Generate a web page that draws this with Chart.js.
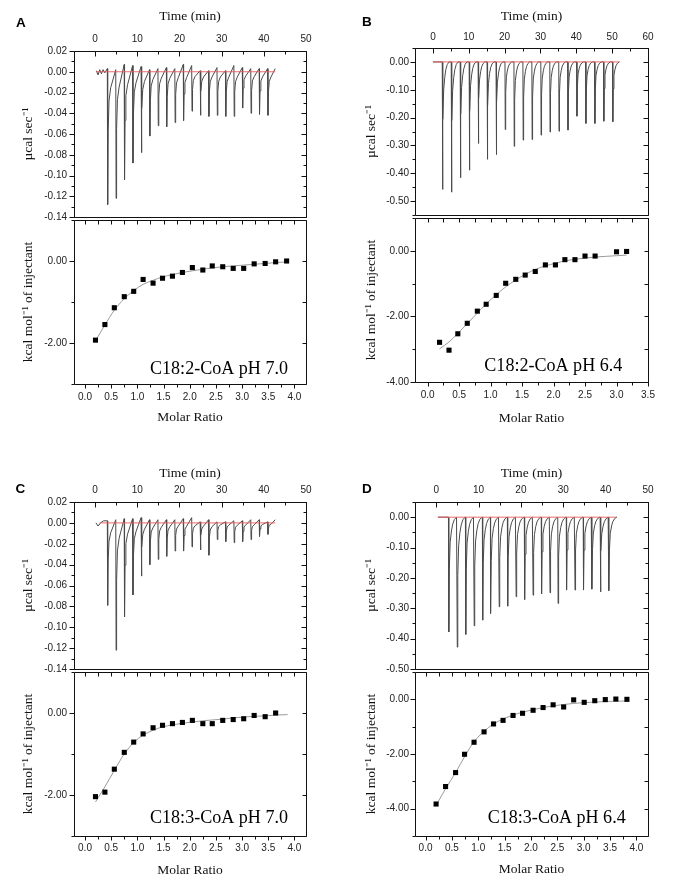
<!DOCTYPE html>
<html>
<head>
<meta charset="utf-8">
<script src="https://cdn.jsdelivr.net/npm/chart.js@4.4.1/dist/chart.umd.min.js"></script>
<style>
html,body{margin:0;padding:0;background:#fff;}
#wrap{position:relative;width:692px;height:880px;overflow:hidden;background:#fff;}
#wrap canvas{position:absolute;}
</style>
</head>
<body>
<div id="wrap"></div>
<script>
// ================= DATA =================
// ---- Panel A : C18:2-CoA pH 7.0 ----
const noteA = 'C18:2-CoA pH 7.0';
const timeLabelsA = ['0','10','20','30','40','50'];
const rawLabelsA = ['0.02','0.00','-0.02','-0.04','-0.06','-0.08','-0.10','-0.12','-0.14'];
const molarLabelsA = ['0.0','0.5','1.0','1.5','2.0','2.5','3.0','3.5','4.0'];
const heatLabelsA = ['0.00','-2.00'];
const injTimeA = [2.9,4.9,6.9,8.9,10.9,12.9,14.9,16.9,18.9,20.9,22.9,24.9,26.9,28.9,30.9,32.9,34.9,36.9,38.9,40.9];
const peakA = [-0.128,-0.122,-0.104,-0.088,-0.078,-0.062,-0.052,-0.053,-0.049,-0.047,-0.038,-0.042,-0.043,-0.042,-0.043,-0.043,-0.035,-0.040,-0.041,-0.042];
const levelA = [0.003,0.002,0.007,0.006,0.005,0.002,0.003,0.004,0.003,0.007,0.006,0.001,0.001,0.004,0.001,0.006,0.004,0.003,0.003,0.003,0.003];
const preA = [[0.3,0.001],[0.7,-0.003],[1.1,0.002],[1.5,-0.002],[1.9,0.002],[2.3,-0.001]];
const traceEndA = 42.7;
const baselineA = [0.3, 42.7];
const molarA = [0.20,0.38,0.56,0.75,0.93,1.11,1.30,1.48,1.67,1.86,2.05,2.25,2.43,2.63,2.83,3.03,3.23,3.44,3.64,3.85];
const heatA = [-1.93,-1.55,-1.14,-0.87,-0.74,-0.45,-0.54,-0.42,-0.37,-0.28,-0.16,-0.22,-0.12,-0.14,-0.18,-0.18,-0.07,-0.06,-0.02,0.00];
const fitMolarA = [0.20,0.38,0.56,0.75,0.93,1.11,1.30,1.48,1.67,1.86,2.05,2.25,2.43,2.63,2.83,3.03,3.23,3.44,3.64,3.85];
const fitHeatA = [-1.95,-1.56,-1.20,-0.92,-0.72,-0.57,-0.47,-0.39,-0.33,-0.28,-0.24,-0.20,-0.17,-0.14,-0.12,-0.10,-0.08,-0.06,-0.04,-0.02];

// ---- Panel B : C18:2-CoA pH 6.4 ----
const noteB = 'C18:2-CoA pH 6.4';
const timeLabelsB = ['0','10','20','30','40','50','60'];
const rawLabelsB = ['0.00','-0.10','-0.20','-0.30','-0.40','-0.50'];
const molarLabelsB = ['0.0','0.5','1.0','1.5','2.0','2.5','3.0','3.5'];
const heatLabelsB = ['0.00','-2.00','-4.00'];
const injTimeB = [2.6,5.1,7.6,10.1,12.6,15.1,17.6,20.1,22.6,25.1,27.6,30.1,32.6,35.1,37.6,40.1,42.6,45.1,47.6,50.1];
const peakB = [-0.458,-0.468,-0.416,-0.389,-0.293,-0.350,-0.333,-0.243,-0.303,-0.281,-0.279,-0.263,-0.252,-0.249,-0.245,-0.195,-0.221,-0.221,-0.213,-0.215];
const preB = [[0.0,0.0]];
const traceEndB = 52.1;
const baselineB = [0.0, 52.1];
const molarB = [0.19,0.34,0.48,0.63,0.79,0.93,1.09,1.24,1.40,1.55,1.71,1.87,2.03,2.18,2.34,2.50,2.66,3.00,3.16];
const heatB = [-2.79,-3.03,-2.53,-2.21,-1.84,-1.63,-1.36,-0.99,-0.87,-0.74,-0.63,-0.43,-0.43,-0.27,-0.27,-0.16,-0.16,-0.03,-0.02];
const fitMolarB = [0.19,0.34,0.48,0.63,0.79,0.93,1.09,1.24,1.40,1.55,1.71,1.87,2.03,2.18,2.34,2.50,2.66,3.00,3.16];
const fitHeatB = [-2.99,-2.78,-2.52,-2.22,-1.90,-1.62,-1.34,-1.10,-0.89,-0.72,-0.57,-0.46,-0.38,-0.31,-0.26,-0.22,-0.19,-0.15,-0.13];

// ---- Panel C : C18:3-CoA pH 7.0 ----
const noteC = 'C18:3-CoA pH 7.0';
const timeLabelsC = ['0','10','20','30','40','50'];
const rawLabelsC = ['0.02','0.00','-0.02','-0.04','-0.06','-0.08','-0.10','-0.12','-0.14'];
const molarLabelsC = ['0.0','0.5','1.0','1.5','2.0','2.5','3.0','3.5','4.0'];
const heatLabelsC = ['0.00','-2.00'];
const injTimeC = [2.9,4.9,6.9,8.9,10.9,12.9,14.9,16.9,18.9,20.9,22.9,24.9,26.9,28.9,30.9,32.9,34.9,36.9,38.9,40.9];
const peakC = [-0.079,-0.122,-0.090,-0.069,-0.051,-0.040,-0.035,-0.032,-0.027,-0.027,-0.023,-0.026,-0.031,-0.016,-0.018,-0.019,-0.018,-0.016,-0.013,-0.011];
const levelC = [0.002,0.003,0.004,0.004,0.005,0.003,0.003,0.003,0.003,0.004,0.005,0.001,0.003,0.001,0.001,0.002,0.002,0.003,0.003,0.001,0.003];
const preC = [[0.2,0.0],[0.7,-0.003],[1.3,0.0],[2.0,0.002],[2.6,0.002]];
const traceEndC = 42.7;
const baselineC = [1.1, 42.7];
const molarC = [0.20,0.38,0.56,0.75,0.93,1.11,1.30,1.48,1.67,1.86,2.05,2.25,2.43,2.63,2.83,3.03,3.23,3.44,3.64];
const heatC = [-2.04,-1.93,-1.37,-0.96,-0.71,-0.51,-0.36,-0.30,-0.26,-0.23,-0.18,-0.26,-0.26,-0.18,-0.16,-0.14,-0.06,-0.09,0.00];
const fitMolarC = [0.20,0.38,0.56,0.75,0.93,1.11,1.30,1.48,1.67,1.86,2.05,2.25,2.43,2.63,2.83,3.03,3.23,3.44,3.64,3.87];
const fitHeatC = [-2.17,-1.80,-1.40,-1.00,-0.72,-0.54,-0.42,-0.34,-0.29,-0.25,-0.22,-0.19,-0.17,-0.15,-0.12,-0.10,-0.08,-0.07,-0.05,-0.04];

// ---- Panel D : C18:3-CoA pH 6.4 ----
const noteD = 'C18:3-CoA pH 6.4';
const timeLabelsD = ['0','10','20','30','40','50'];
const rawLabelsD = ['0.00','-0.10','-0.20','-0.30','-0.40','-0.50'];
const molarLabelsD = ['0.0','0.5','1.0','1.5','2.0','2.5','3.0','3.5','4.0'];
const heatLabelsD = ['0.00','-2.00','-4.00'];
const injTimeD = [2.9,4.9,6.9,8.9,10.9,12.8,14.8,16.8,18.8,20.8,22.8,24.8,26.8,28.7,30.7,32.7,34.7,36.7,38.7,40.7];
const peakD = [-0.378,-0.428,-0.386,-0.358,-0.339,-0.317,-0.295,-0.293,-0.262,-0.271,-0.257,-0.253,-0.249,-0.284,-0.240,-0.240,-0.240,-0.237,-0.246,-0.242];
const preD = [[0.4,0.0]];
const traceEndD = 42.4;
const baselineD = [0.4, 42.4];
const molarD = [0.20,0.38,0.57,0.74,0.92,1.11,1.29,1.47,1.66,1.84,2.04,2.23,2.42,2.62,2.81,3.01,3.21,3.41,3.61,3.82];
const heatD = [-3.83,-3.19,-2.68,-2.01,-1.57,-1.19,-0.90,-0.77,-0.59,-0.51,-0.40,-0.30,-0.20,-0.28,-0.02,-0.11,-0.05,-0.01,0.01,0.00];
const fitMolarD = [0.20,0.38,0.57,0.74,0.92,1.11,1.29,1.47,1.66,1.84,2.04,2.23,2.42,2.62,2.81,3.01,3.21,3.41,3.61,3.82];
const fitHeatD = [-3.88,-3.27,-2.68,-2.10,-1.55,-1.17,-0.90,-0.72,-0.58,-0.47,-0.38,-0.30,-0.24,-0.19,-0.15,-0.12,-0.10,-0.08,-0.07,-0.06];

// Shape templates of one injection peak: [minutes after injection, fraction of peak depth]
const spikeShapeNoisy  = [[0,0],[0.08,1],[0.2,0.45],[0.4,0.22],[0.8,0.12]];
const spikeShapeSmooth = [[0,0],[0.08,1],[0.2,0.45],[0.4,0.22],[0.7,0.12],[1.0,0.06],[1.4,0.02],[1.9,0]];

// ================= LAYOUT (pixel geometry of the figure) =================
const PANEL_W = 346;
const SANS = "'Liberation Sans', Arial, sans-serif";
const SERIF = "'Liberation Serif', 'Times New Roman', serif";
const layout = {
  A:{ox:0,   oy:0,   L:74,  R:306, T:51,  M:217, B:384, timeTitleY:16,  timeLabelY:39.3,  yTitleX:28,  yLabelPad:7, molarLabelY:397.7, molarTitleY:417.7, letter:[20.8,22.8],  note:[150,374]},
  B:{ox:346, oy:0,   L:415, R:648, T:48,  M:215, B:382, timeTitleY:16,  timeLabelY:37.7,  yTitleX:371, yLabelPad:6, molarLabelY:395.7, molarTitleY:418.3, letter:[366.8,22.5], note:[484.3,370.7]},
  C:{ox:0,   oy:440, L:74,  R:306, T:502, M:669, B:836, timeTitleY:473.3, timeLabelY:490.7, yTitleX:28,  yLabelPad:7, molarLabelY:848.3, molarTitleY:870,   letter:[20.3,488.8], note:[150,822.7]},
  D:{ox:346, oy:440, L:415, R:648, T:502, M:669, B:836, timeTitleY:473.3, timeLabelY:490.7, yTitleX:371, yLabelPad:6, molarLabelY:848.3, molarTitleY:869,   letter:[366.8,489],  note:[487.7,822.7]}
};

const panels = {
  A:{note:noteA, timeLabels:timeLabelsA, rawLabels:rawLabelsA, molarLabels:molarLabelsA, heatLabels:heatLabelsA,
     injTime:injTimeA, peak:peakA, level:levelA, pre:preA, traceEnd:traceEndA, baseline:baselineA,
     molar:molarA, heat:heatA, fitX:fitMolarA, fitY:fitHeatA, shape:spikeShapeNoisy,
     tRange:[-5,50], rawRange:[-0.14,0.02], rawMinor:0.01, mRange:[-0.21,4.22], hRange:[-3,1]},
  B:{note:noteB, timeLabels:timeLabelsB, rawLabels:rawLabelsB, molarLabels:molarLabelsB, heatLabels:heatLabelsB,
     injTime:injTimeB, peak:peakB, level:null, pre:preB, traceEnd:traceEndB, baseline:baselineB,
     molar:molarB, heat:heatB, fitX:fitMolarB, fitY:fitHeatB, shape:spikeShapeSmooth,
     tRange:[-5,60], rawRange:[-0.55,0.05], rawMinor:0.05, mRange:[-0.2,3.5], hRange:[-4,1]},
  C:{note:noteC, timeLabels:timeLabelsC, rawLabels:rawLabelsC, molarLabels:molarLabelsC, heatLabels:heatLabelsC,
     injTime:injTimeC, peak:peakC, level:levelC, pre:preC, traceEnd:traceEndC, baseline:baselineC,
     molar:molarC, heat:heatC, fitX:fitMolarC, fitY:fitHeatC, shape:spikeShapeNoisy,
     tRange:[-5,50], rawRange:[-0.14,0.02], rawMinor:0.01, mRange:[-0.21,4.22], hRange:[-3,1]},
  D:{note:noteD, timeLabels:timeLabelsD, rawLabels:rawLabelsD, molarLabels:molarLabelsD, heatLabels:heatLabelsD,
     injTime:injTimeD, peak:peakD, level:null, pre:preD, traceEnd:traceEndD, baseline:baselineD,
     molar:molarD, heat:heatD, fitX:fitMolarD, fitY:fitHeatD, shape:spikeShapeSmooth,
     tRange:[-5,50], rawRange:[-0.50,0.05], rawMinor:0.05, mRange:[-0.2,4.22], hRange:[-5,1]}
};

// ================= PLUGINS (per chart, closures keep arrays out of Chart.js option resolution) =================
function makeFramePlugin(marks) {
  return {
    id:'frameTicks',
    afterDatasetsDraw(chart) {
      const {ctx, chartArea:a} = chart;
      const L = Math.round(a.left)+0.5, R = Math.round(a.right)+0.5, T = Math.round(a.top)+0.5, B = Math.round(a.bottom)+0.5;
      ctx.save();
      ctx.strokeStyle = '#111'; ctx.lineWidth = 1;
      ctx.beginPath(); ctx.rect(L, T, R-L, B-T); ctx.stroke();
      ctx.beginPath();
      for (const m of marks) {
        const s = chart.scales[m.scale];
        let vals = m.values;
        if (!vals) {
          vals = [];
          for (let k = Math.ceil(s.min/m.step - 1e-6); k*m.step <= s.max + 1e-9; k++) vals.push(k*m.step);
        }
        const out = m.out||0, inn = m.inn||0;
        for (const v of vals) {
          const q = Math.round(s.getPixelForValue(v)) + 0.5;
          if (m.edge==='left')   { ctx.moveTo(L-out, q); ctx.lineTo(L+inn, q); }
          if (m.edge==='right')  { ctx.moveTo(R+out, q); ctx.lineTo(R-inn, q); }
          if (m.edge==='top')    { ctx.moveTo(q, T-out); ctx.lineTo(q, T+inn); }
          if (m.edge==='bottom') { ctx.moveTo(q, B+out); ctx.lineTo(q, B-inn); }
        }
      }
      ctx.stroke();
      ctx.restore();
    }
  };
}
function makeDecor(o) {
  return {
    id:'decor',
    afterDraw(chart) {
      const ctx = chart.ctx;
      ctx.save(); ctx.fillStyle = '#000';
      if (o.letter) {
        ctx.font = "bold 13.5px " + SANS; ctx.textAlign = 'center'; ctx.textBaseline = 'middle';
        ctx.fillText(o.letter, o.lx, o.ly);
      }
      if (o.note) {
        ctx.font = "19.5px " + SERIF; ctx.textAlign = 'left'; ctx.textBaseline = 'alphabetic';
        ctx.fillText(o.note, o.nx, o.ny, 138);
      }
      ctx.restore();
    }
  };
}

// ================= BUILD =================
const wrap = document.getElementById('wrap');
function makeCanvas(x, y, w, h) {
  const c = document.createElement('canvas');
  c.width = w; c.height = h;
  c.style.left = x+'px'; c.style.top = y+'px'; c.style.width = w+'px'; c.style.height = h+'px';
  wrap.appendChild(c);
  return c;
}
function buildTrace(d) {
  const pts = d.pre.map(([x,y]) => ({x, y}));
  d.injTime.forEach((t, i) => {
    pts.push({x:t, y: d.level ? d.level[i] : 0});
    d.shape.slice(1).forEach(([dt, f]) => pts.push({x:t+dt, y:d.peak[i]*f}));
  });
  pts.push({x:d.traceEnd, y: d.level ? d.level[d.level.length-1] : 0});
  return pts;
}
const tickFont = {family:SANS, size:10};
const titleFont = {family:SERIF, size:13.5};
const noGrid = {display:false, drawTicks:false, tickLength:0};

function buildTop(key) {
  const p = layout[key], d = panels[key];
  const H = p.M - p.oy + 12;
  const cv = makeCanvas(p.ox, p.oy, PANEL_W, H);
  const timeVals = d.timeLabels.map(Number), rawVals = d.rawLabels.map(Number);
  const marks = [
    {scale:'y', edge:'left', step:d.rawMinor, out:3},
    {scale:'y', edge:'left', values:rawVals, out:5},
    {scale:'y', edge:'right', step:d.rawMinor, inn:3},
    {scale:'y', edge:'right', values:rawVals, inn:5},
    {scale:'x', edge:'top', step:5, inn:3},
    {scale:'x', edge:'top', values:timeVals, inn:5}
  ];
  new Chart(cv, {
    type:'line',
    data:{datasets:[
      {data:[{x:d.baseline[0],y:0},{x:d.baseline[1],y:0}], borderColor:'rgba(236,90,90,0.9)', borderWidth:1, pointRadius:0},
      {data:buildTrace(d), borderColor:'#4a4a4a', borderWidth:1, pointRadius:0}
    ]},
    options:{
      responsive:false, animation:false, devicePixelRatio:1, events:[],
      layout:{padding:{left:0, top:0, right:p.ox+PANEL_W-p.R, bottom:12}},
      plugins:{legend:{display:false}, tooltip:{enabled:false}},
      scales:{
        x:{type:'linear', position:'top', min:d.tRange[0], max:d.tRange[1], grid:noGrid, border:{display:false},
           ticks:{autoSkip:false, maxRotation:0, minRotation:0, padding:p.T-p.timeLabelY-6, font:tickFont, color:'#222',
                  callback:(v,i)=>d.timeLabels[i]},
           afterBuildTicks:s=>{s.ticks = timeVals.map(v=>({value:v}));},
           afterFit:s=>{s.height = p.T-p.oy; s.paddingLeft = 0; s.paddingRight = 0;},
           title:{display:true, text:'Time (min)', font:titleFont, color:'#111', padding:{top:p.timeTitleY-p.oy-8.1, bottom:0}}},
        y:{type:'linear', min:d.rawRange[0], max:d.rawRange[1], grid:noGrid, border:{display:false},
           ticks:{autoSkip:false, padding:p.yLabelPad, font:tickFont, color:'#222', callback:(v,i)=>d.rawLabels[i]},
           afterBuildTicks:s=>{s.ticks = rawVals.map(v=>({value:v}));},
           afterFit:s=>{s.width = p.L-p.ox; s.paddingTop = 0; s.paddingBottom = 0;},
           title:{display:true, text:'µcal sec⁻¹', font:titleFont, color:'#111', padding:{top:p.yTitleX-p.ox-8.1, bottom:0}}}
      }
    },
    plugins:[makeFramePlugin(marks), makeDecor({letter:key, lx:p.letter[0]-p.ox, ly:p.letter[1]-p.oy})]
  });
}

function buildBottom(key) {
  const p = layout[key], d = panels[key];
  const top = p.M - 1;
  const H = Math.round(p.molarTitleY + 10) - top;
  const cv = makeCanvas(p.ox, top, PANEL_W, H);
  const molarVals = d.molarLabels.map(Number), heatVals = d.heatLabels.map(Number);
  const marks = [
    {scale:'y', edge:'left', step:1, out:3},
    {scale:'y', edge:'left', values:heatVals, out:5},
    {scale:'y', edge:'right', step:1, inn:4},
    {scale:'x', edge:'top', step:0.25, inn:4},
    {scale:'x', edge:'bottom', step:0.25, out:3},
    {scale:'x', edge:'bottom', values:molarVals, out:4}
  ];
  new Chart(cv, {
    type:'line',
    data:{datasets:[
      {data:d.molar.map((x,i)=>({x, y:d.heat[i]})), showLine:false, pointStyle:'rect', pointRadius:3.6,
       backgroundColor:'#000', borderColor:'#000', borderWidth:0},
      {data:d.fitX.map((x,i)=>({x, y:d.fitY[i]})), borderColor:'#9a9a9a', borderWidth:1, pointRadius:0,
       cubicInterpolationMode:'monotone'}
    ]},
    options:{
      responsive:false, animation:false, devicePixelRatio:1, events:[],
      layout:{padding:{left:0, top:1, right:p.ox+PANEL_W-p.R, bottom:0}},
      plugins:{legend:{display:false}, tooltip:{enabled:false}},
      scales:{
        x:{type:'linear', position:'bottom', min:d.mRange[0], max:d.mRange[1], grid:noGrid, border:{display:false},
           ticks:{autoSkip:false, maxRotation:0, minRotation:0, padding:p.molarLabelY-p.B-6, font:tickFont, color:'#222',
                  callback:(v,i)=>d.molarLabels[i]},
           afterBuildTicks:s=>{s.ticks = molarVals.map(v=>({value:v}));},
           afterFit:s=>{s.height = (top+H)-p.B; s.paddingLeft = 0; s.paddingRight = 0;},
           title:{display:true, text:'Molar Ratio', font:titleFont, color:'#111', padding:{top:0, bottom:(top+H)-p.molarTitleY-8.1}}},
        y:{type:'linear', min:d.hRange[0], max:d.hRange[1], grid:noGrid, border:{display:false},
           ticks:{autoSkip:false, padding:p.yLabelPad, font:tickFont, color:'#222', callback:(v,i)=>d.heatLabels[i]},
           afterBuildTicks:s=>{s.ticks = heatVals.map(v=>({value:v}));},
           afterFit:s=>{s.width = p.L-p.ox; s.paddingTop = 0; s.paddingBottom = 0;},
           title:{display:true, text:'kcal mol⁻¹ of injectant', font:titleFont, color:'#111', padding:{top:p.yTitleX-p.ox-8.1, bottom:0}}}
      }
    },
    plugins:[makeFramePlugin(marks), makeDecor({note:d.note, nx:p.note[0]-p.ox, ny:p.note[1]-top})]
  });
}

['A','B','C','D'].forEach(k => { buildTop(k); buildBottom(k); });
</script>
</body>
</html>
